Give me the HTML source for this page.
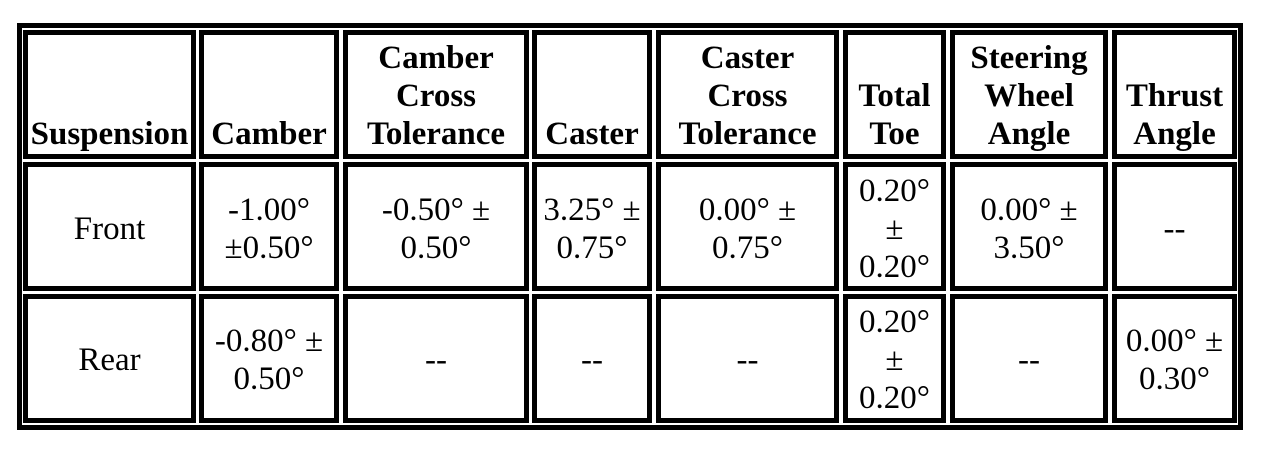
<!DOCTYPE html>
<html>
<head>
<meta charset="utf-8">
<style>
  html, body { margin:0; padding:0; background:#fff; }
  body { width:1280px; height:460px; position:relative; overflow:hidden;
         font-family:"Liberation Serif", "Times New Roman", serif; color:#000; }
  .outer { position:absolute; left:17px; top:23px; width:1226px; height:407px;
           box-sizing:border-box; border:5px solid #000; }
  .c { position:absolute; box-sizing:border-box; border:5px solid #000;
       display:flex; justify-content:center; text-align:center;
       font-size:33px; line-height:38px; white-space:nowrap; }
  .h { font-weight:bold; align-items:flex-end; padding-bottom:1px; top:30px; height:129px; }
  .r1 { align-items:center; top:162px; height:129px; padding-top:4px; }
  .r2 { align-items:center; top:294px; height:129px; padding-top:3px; }
  .k1 { left:23px;  width:173px; }
  .k2 { left:199px; width:140px; }
  .k3 { left:343px; width:186px; }
  .k4 { left:532px; width:120px; }
  .k5 { left:656px; width:183px; }
  .k6 { left:843px; width:103px; }
  .k7 { left:950px; width:158px; }
  .k8 { left:1112px; width:125px; }
</style>
</head>
<body>
<div class="outer"></div>

<div class="c h k1"><div>Suspension</div></div>
<div class="c h k2"><div>Camber</div></div>
<div class="c h k3"><div>Camber<br>Cross<br>Tolerance</div></div>
<div class="c h k4"><div>Caster</div></div>
<div class="c h k5"><div>Caster<br>Cross<br>Tolerance</div></div>
<div class="c h k6"><div>Total<br>Toe</div></div>
<div class="c h k7"><div>Steering<br>Wheel<br>Angle</div></div>
<div class="c h k8"><div>Thrust<br>Angle</div></div>

<div class="c r1 k1"><div>Front</div></div>
<div class="c r1 k2"><div>-1.00°<br>±0.50°</div></div>
<div class="c r1 k3"><div>-0.50° ±<br>0.50°</div></div>
<div class="c r1 k4"><div>3.25° ±<br>0.75°</div></div>
<div class="c r1 k5"><div>0.00° ±<br>0.75°</div></div>
<div class="c r1 k6"><div>0.20°<br>±<br>0.20°</div></div>
<div class="c r1 k7"><div>0.00° ±<br>3.50°</div></div>
<div class="c r1 k8"><div>--</div></div>

<div class="c r2 k1"><div>Rear</div></div>
<div class="c r2 k2"><div>-0.80° ±<br>0.50°</div></div>
<div class="c r2 k3"><div>--</div></div>
<div class="c r2 k4"><div>--</div></div>
<div class="c r2 k5"><div>--</div></div>
<div class="c r2 k6"><div>0.20°<br>±<br>0.20°</div></div>
<div class="c r2 k7"><div>--</div></div>
<div class="c r2 k8"><div>0.00° ±<br>0.30°</div></div>
</body>
</html>
